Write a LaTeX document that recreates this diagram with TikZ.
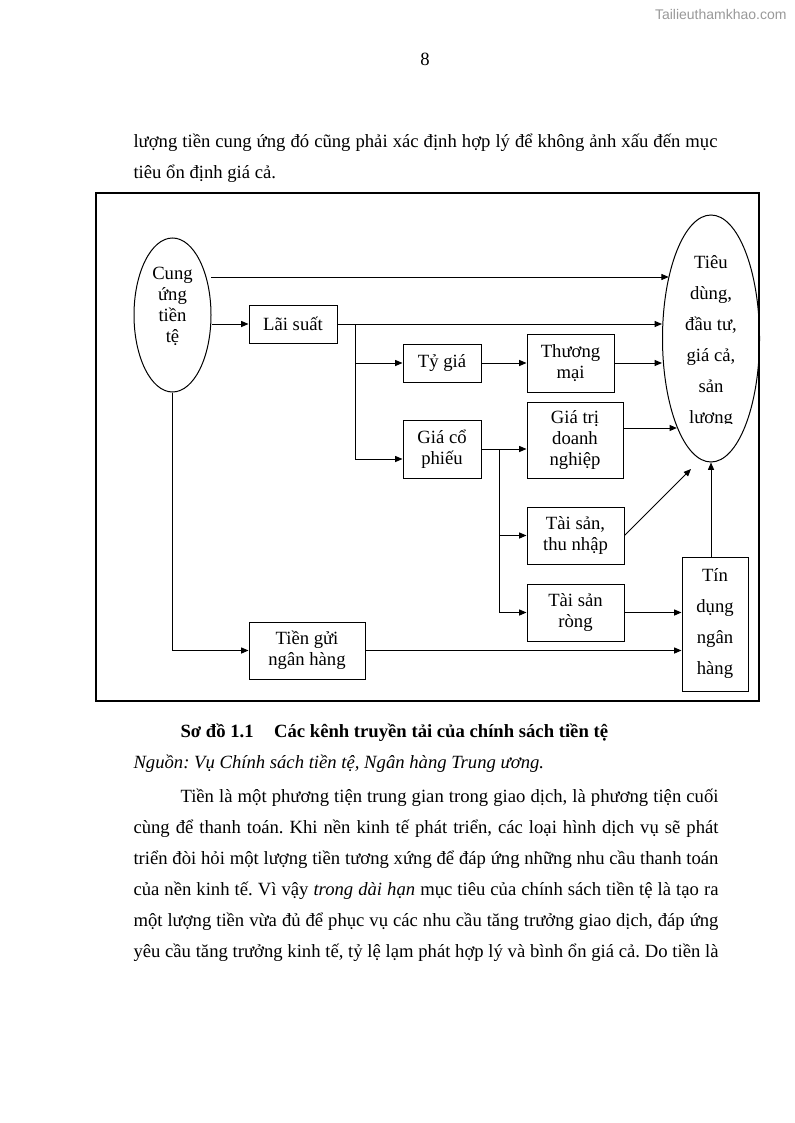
\documentclass[tikz,border=0pt]{standalone}
\usepackage{fontspec}
\setmainfont{Liberation Serif}
\newfontfamily\wmfont{Liberation Sans}
\usetikzlibrary{arrows.meta,shapes.geometric}
\frenchspacing
\begin{document}
\begin{tikzpicture}[x=0.75pt,y=-0.75pt,
  line width=0.75pt,
  body/.style={anchor=base west,inner sep=0pt,font=\fontsize{14}{16}\selectfont},
  boxn/.style={draw,rectangle,inner sep=0pt,align=center,font=\fontsize{14}{15.75}\selectfont},
  tallbox/.style={boxn,font=\fontsize{14}{23.25}\selectfont},
  ell/.style={draw,ellipse,inner sep=0pt},
  etext/.style={inner sep=0pt,align=center},
  arr/.style={-{Triangle[length=5.5pt,width=4.5pt]}}
]
\useasboundingbox (0,0) rectangle (794,1123);
\fill[white] (0,0) rectangle (794,1123);

% watermark and page number
\node[anchor=base east,inner sep=0pt,text=black!40,font=\wmfont\fontsize{10.5}{12}\selectfont] (wm) at (787,20) {Tailieuthamkhao.com};
\node[anchor=base,inner sep=0pt,font=\fontsize{14}{16}\selectfont] (pg) at (425,66) {8};

% text above
\node[body] (l1) at (133,148) {\makebox[438pt][s]{lượng tiền cung ứng đó cũng phải xác định hợp lý để không ảnh xấu đến mục}};
\node[body] (l2) at (133,179) {tiêu ổn định giá cả.};

% frame
\draw[line width=1.1pt] (96,193) rectangle (759,701);

% nodes
\node[ell,minimum width=57.75pt,minimum height=115.5pt] (cung) at (172.5,315) {};
\node[etext,font=\fontsize{14}{15.75}\selectfont] (cungt) at (172.5,306.5) {Cung\\ứng\\tiền\\tệ};
\node[ell,minimum width=72.75pt,minimum height=185.25pt] (tieu) at (711,338.5) {};
\begin{scope}
\clip (650,200) rectangle (760,423);
\node[etext,font=\fontsize{14}{23.25}\selectfont] (tieut) at (711,342) {Tiêu\\dùng,\\đầu tư,\\giá cả,\\sản\\lượng};
\end{scope}

\node[boxn,minimum width=66pt,minimum height=28.5pt] (lai) at (293,324) {Lãi suất};
\node[boxn,minimum width=58.5pt,minimum height=28.5pt] (tygia) at (442,363) {Tỷ giá};
\node[boxn,minimum width=65.25pt,minimum height=43.5pt] (thuong) at (570.5,363) {Thương\\mại};
\node[boxn,minimum width=58.5pt,minimum height=43.5pt] (giaco) at (442,449) {Giá cổ\\phiếu};
\node[boxn,minimum width=72pt,minimum height=57pt] (giatri) at (575,440) {Giá trị\\doanh\\nghiệp};
\node[boxn,minimum width=72.75pt,minimum height=42.75pt] (taisan) at (575.5,535.5) {Tài sản,\\thu nhập};
\node[boxn,minimum width=72.75pt,minimum height=42.75pt] (rong) at (575.5,612.5) {Tài sản\\ròng};
\node[tallbox,minimum width=49.5pt,minimum height=100.5pt] (tindung) at (715,624) {Tín\\dụng\\ngân\\hàng};
\node[boxn,minimum width=87pt,minimum height=42.75pt] (tiengui) at (307,650.5) {Tiền gửi\\ngân hàng};

% coordinates
\coordinate (s1) at (211,277);
\coordinate (b1) at (355,324);
\coordinate (b2) at (499,449);
\coordinate (d1) at (691,469);
\coordinate (g1) at ([yshift=-7.5pt]giaco.west);
\coordinate (g2) at ([yshift=9pt]giatri.east);

% connectors
\draw[arr] (s1) -- (s1 -| tieu.124.4);
\draw[arr] (cung.east |- lai.west) -- (lai.west);
\draw[arr] (lai.east) -- (lai.east -| tieu.west);
\draw[arr] (b1) |- (g1);
\draw[arr] (b1 |- tygia.west) -- (tygia.west);
\draw[arr] (tygia.east) -- (thuong.west);
\draw[arr] (thuong.east) -- (thuong.east -| tieu.west);
\draw[arr] (giaco.east) -- (giaco.east -| giatri.west);
\draw[arr] (b2) |- (rong.west);
\draw[arr] (b2 |- taisan.west) -- (taisan.west);
\draw[arr] (g2) -- (g2 -| tieu.249.5);
\draw[arr] (taisan.east) -- (d1);
\draw[arr] (rong.east) -- (rong.east -| tindung.west);
\draw[arr] (cung.south) |- (tiengui.west);
\draw[arr] (tiengui.east) -- (tiengui.east -| tindung.west);
\draw[arr] (tieu.south |- tindung.north) -- (tieu.south);

% caption and text below
\node[body,font=\bfseries\fontsize{14}{16}\selectfont] (cap) at (180,737) {Sơ đồ 1.1\hspace{1.1em}Các kênh truyền tải của chính sách tiền tệ};
\node[body,font=\itshape\fontsize{14}{16}\selectfont] (src) at (133,768) {Nguồn: Vụ Chính sách tiền tệ, Ngân hàng Trung ương.};
\node[body] (p1) at (180,802) {\makebox[403.5pt][s]{Tiền là một phương tiện trung gian trong giao dịch, là phương tiện cuối}};
\node[body] (p2) at (133,833) {\makebox[438.75pt][s]{cùng để thanh toán. Khi nền kinh tế phát triển, các loại hình dịch vụ sẽ phát}};
\node[body] (p3) at (133,864) {\makebox[438.75pt][s]{triển đòi hỏi một lượng tiền tương xứng để đáp ứng những nhu cầu thanh toán}};
\node[body] (p4) at (133,895) {\makebox[438.75pt][s]{của nền kinh tế. Vì vậy \textit{trong dài hạn} mục tiêu của chính sách tiền tệ là tạo ra}};
\node[body] (p5) at (133,926) {\makebox[438.75pt][s]{một lượng tiền vừa đủ để phục vụ các nhu cầu tăng trưởng giao dịch, đáp ứng}};
\node[body] (p6) at (133,957) {\makebox[438.75pt][s]{yêu cầu tăng trưởng kinh tế, tỷ lệ lạm phát hợp lý và bình ổn giá cả. Do tiền là}};
\end{tikzpicture}
\end{document}
